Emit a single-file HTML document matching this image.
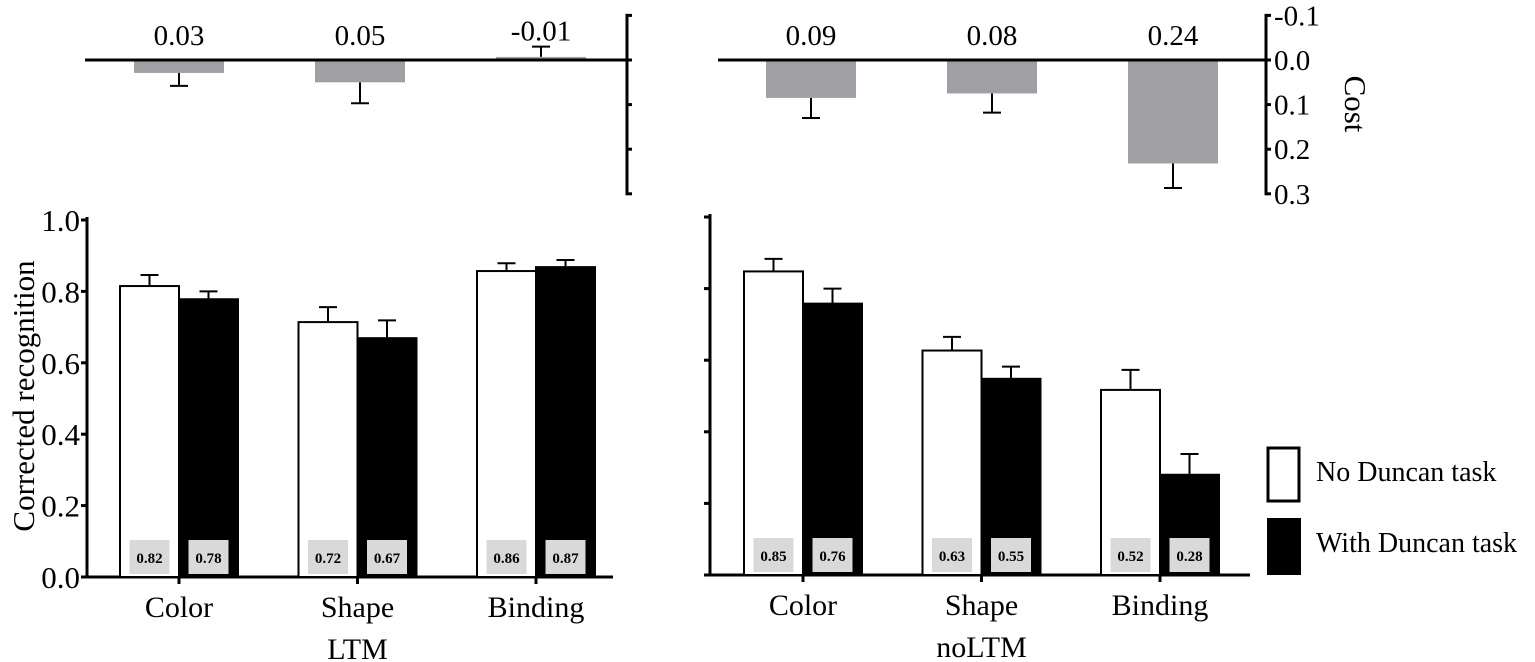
<!DOCTYPE html>
<html><head><meta charset="utf-8"><style>
body{margin:0;background:#fff;}
svg{display:block;font-family:"Liberation Serif",serif;}
</style></head><body>
<svg id="chart" width="1535" height="662" viewBox="0 0 1535 662" xmlns="http://www.w3.org/2000/svg"></svg>
<script>
const categories = ["Color","Shape","Binding"];
const ltmNo = [0.815, 0.714, 0.857];
const ltmNoErr = [0.031, 0.042, 0.022];
const ltmWith = [0.778, 0.669, 0.868];
const ltmWithErr = [0.022, 0.05, 0.02];
const noltmNo = [0.848, 0.627, 0.517];
const noltmNoErr = [0.035, 0.038, 0.056];
const noltmWith = [0.758, 0.548, 0.28];
const noltmWithErr = [0.042, 0.034, 0.058];
const ltmLabelsNo = ["0.82","0.72","0.86"];
const ltmLabelsWith = ["0.78","0.67","0.87"];
const noltmLabelsNo = ["0.85","0.63","0.52"];
const noltmLabelsWith = ["0.76","0.55","0.28"];
const ltmCost = [0.029, 0.05, -0.007];
const ltmCostErr = [0.029, 0.047, 0.023];
const ltmCostLabels = ["0.03","0.05","-0.01"];
const noltmCost = [0.085, 0.075, 0.232];
const noltmCostErr = [0.045, 0.043, 0.055];
const noltmCostLabels = ["0.09","0.08","0.24"];
const yTicks = [0, 0.2, 0.4, 0.6, 0.8, 1.0];
const yTickLabels = ["0.0","0.2","0.4","0.6","0.8","1.0"];
const costTicks = [-0.1, 0, 0.1, 0.2, 0.3];
const costTickLabels = ["-0.1","0.0","0.1","0.2","0.3"];

const NS="http://www.w3.org/2000/svg";
const svg=document.getElementById('chart');
function mk(tag,attrs,parent){const e=document.createElementNS(NS,tag);for(const k in attrs)e.setAttribute(k,attrs[k]);(parent||svg).appendChild(e);return e;}
function txt(s,attrs){const e=mk('text',attrs);e.textContent=s;return e;}

function panel(cfg){
  const y=v=>cfg.y0-(cfg.y0-cfg.y1)*v;
  const x=i=>cfg.cx0+i*cfg.step;
  const bw=59;
  const ax=mk('line',{x1:cfg.ax,y1:cfg.y1-3,x2:cfg.ax,y2:cfg.y0+1.5,stroke:'#000','stroke-width':3});
  
  
  yTicks.forEach((t,i)=>{
    const tk=mk('line',{x1:cfg.ax-6,y1:y(t),x2:cfg.ax,y2:y(t),stroke:'#000','stroke-width':3});
    
    
    if(cfg.labels){
      const l=txt(yTickLabels[i],{x:cfg.ax-7,y:y(t)+11,'text-anchor':'end','font-size':31});
      
      
    }
  });
  const xa=mk('line',{x1:cfg.ax,y1:cfg.y0,x2:cfg.xend,y2:cfg.y0,stroke:'#000','stroke-width':3});
  
  
  categories.forEach((c,i)=>{
    const cx=x(i);
    [[cfg.no,cfg.noErr,cfg.noL,cx-bw,'#fff','bar-no-duncan-'+c.toLowerCase(),cfg.both],[cfg.wi,cfg.wiErr,cfg.wiL,cx,'#000','bar-with-duncan-'+c.toLowerCase(),false]].forEach(([vals,errs,labs,bx,fill,nm,both])=>{
      const v=vals[i],e=errs[i],mx=bx+bw/2;
      const eb=mk('path',{d:`M${mx},${y(v+e)} L${mx},${both?y(v-e):y(v)} M${mx-9},${y(v+e)} L${mx+9},${y(v+e)}`+(both?` M${mx-9},${y(v-e)} L${mx+9},${y(v-e)}`:''),stroke:'#000','stroke-width':2,fill:'none'});
      
      
      const r=mk('rect',{x:bx,y:y(v),width:bw,height:y(0)-y(v),fill:fill,stroke:'#000','stroke-width':2});
      
      
      const b=mk('rect',{x:mx-20,y:cfg.y0-37,width:40,height:34,fill:'#d9d9d9'});
      
      
      const t=txt(labs[i],{x:mx,y:cfg.y0-14,'text-anchor':'middle','font-size':15,'font-weight':'bold'});
      
      
    });
    const tk=mk('line',{x1:cx,y1:cfg.y0,x2:cx,y2:cfg.y0+7,stroke:'#000','stroke-width':3});
    
    
    const cl=txt(c,{x:cx,y:cfg.y0+40,'text-anchor':'middle','font-size':30});
    
    
  });
  const gl=txt(cfg.group,{x:x(1),y:cfg.y0+82,'text-anchor':'middle','font-size':30});
  
  
}

function costPanel(cfg){
  const y0=60, per=446;
  const y=v=>y0+v*per;
  const x=i=>cfg.cx0+i*cfg.step;
  const bw=90;
  categories.forEach((c,i)=>{
    const v=cfg.vals[i],e=cfg.errs[i],cx=x(i);
    const ee=v>=0?v+e:v-e;
    const eb=mk('path',{d:`M${cx},${y(v)} L${cx},${y(ee)} M${cx-9},${y(ee)} L${cx+9},${y(ee)}`,stroke:'#000','stroke-width':2,fill:'none'});
    
    
    const r=mk('rect',{x:cx-bw/2,y:Math.min(y(0),y(v)),width:bw,height:Math.abs(y(v)-y(0)),fill:'#a0a0a4'});
    
    
    const ly=v<0?Math.min(45,y(ee)-6):45;
    const t=txt(cfg.labs[i],{x:cx,y:ly,'text-anchor':'middle','font-size':29});
    
    
  });
  const zl=mk('line',{x1:cfg.x1,y1:y0,x2:cfg.ax,y2:y0,stroke:'#000','stroke-width':3});
  
  
  const ax=mk('line',{x1:cfg.ax,y1:y(-0.1)-1.5,x2:cfg.ax,y2:y(0.3)+1.5,stroke:'#000','stroke-width':3});
  
  
  costTicks.forEach((t,i)=>{
    const tk=mk('line',{x1:cfg.ax,y1:y(t),x2:cfg.ax+5,y2:y(t),stroke:'#000','stroke-width':3});
    
    
    if(cfg.labels){
      const l=txt(costTickLabels[i],{x:cfg.ax+8,y:y(t)+10,'font-size':29});
      
      
    }
  });
}

costPanel({name:'ltm',cx0:179,step:181,vals:ltmCost,errs:ltmCostErr,labs:ltmCostLabels,x1:85,ax:627,labels:false});
costPanel({name:'noltm',cx0:811,step:181,vals:noltmCost,errs:noltmCostErr,labs:noltmCostLabels,x1:718,ax:1266,labels:true});
const ct=txt('Cost',{x:1345,y:104,'font-size':31,transform:'rotate(90 1345 104)','text-anchor':'middle'});



panel({name:'ltm',ax:87,y0:577,y1:220,cx0:179,step:178.5,xend:613,labels:true,both:false,no:ltmNo,noErr:ltmNoErr,wi:ltmWith,wiErr:ltmWithErr,noL:ltmLabelsNo,wiL:ltmLabelsWith,group:'LTM'});
panel({name:'noltm',ax:710,y0:575,y1:217,cx0:803,step:178.5,xend:1250,labels:false,both:true,no:noltmNo,noErr:noltmNoErr,wi:noltmWith,wiErr:noltmWithErr,noL:noltmLabelsNo,wiL:noltmLabelsWith,group:'noLTM'});

const yt=txt('Corrected recognition',{x:34,y:396,'font-size':31,'text-anchor':'middle',transform:'rotate(-90 34 396)'});



const l1=mk('rect',{x:1268,y:448,width:31,height:53,fill:'#fff',stroke:'#000','stroke-width':3});


const l1t=txt('No Duncan task',{x:1316,y:481,'font-size':28});


const l2=mk('rect',{x:1267,y:518,width:34,height:57,fill:'#000'});


const l2t=txt('With Duncan task',{x:1316,y:552,'font-size':28});


</script>
</body></html>
